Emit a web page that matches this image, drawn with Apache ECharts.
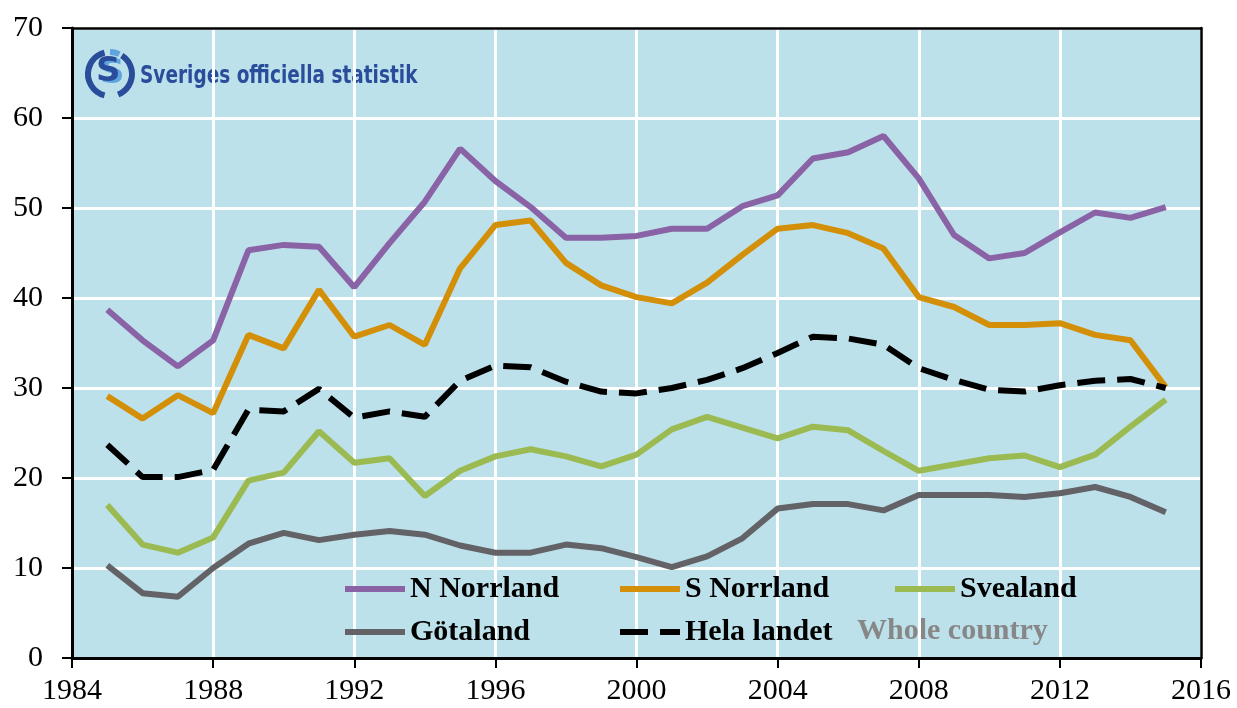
<!DOCTYPE html>
<html>
<head>
<meta charset="utf-8">
<script src="https://cdn.jsdelivr.net/npm/echarts@6/dist/echarts.min.js"></script>
<style>
  html, body { margin: 0; padding: 0; background: #fff; }
  #chart { width: 1237px; height: 708px; }
</style>
</head>
<body>
<div id="chart"></div>
<script>
const years = [1985, 1986, 1987, 1988, 1989, 1990, 1991, 1992, 1993, 1994, 1995, 1996, 1997, 1998, 1999, 2000,
  2001, 2002, 2003, 2004, 2005, 2006, 2007, 2008, 2009, 2010, 2011, 2012, 2013, 2014, 2015];

const nNorrland = [38.7, 35.3, 32.4, 35.3, 45.3, 45.9, 45.7, 41.2, 46.1, 50.7, 56.6, 53.0, 50.1, 46.7, 46.7, 46.9,
  47.7, 47.7, 50.2, 51.4, 55.5, 56.2, 58.0, 53.3, 47.0, 44.4, 45.0, 47.3, 49.5, 48.9, 50.1];
const sNorrland = [29.1, 26.6, 29.2, 27.2, 35.9, 34.4, 40.9, 35.7, 37.0, 34.8, 43.3, 48.1, 48.6, 43.9, 41.4, 40.1,
  39.4, 41.7, 44.8, 47.7, 48.1, 47.2, 45.5, 40.1, 39.0, 37.0, 37.0, 37.2, 35.9, 35.3, 30.1];
const svealand = [17.0, 12.6, 11.7, 13.4, 19.7, 20.6, 25.2, 21.7, 22.2, 18.0, 20.8, 22.4, 23.2, 22.4, 21.3, 22.6,
  25.4, 26.8, 25.6, 24.4, 25.7, 25.3, 23.0, 20.8, 21.5, 22.2, 22.5, 21.2, 22.6, 25.7, 28.7];
const gotaland = [10.3, 7.2, 6.8, 10.0, 12.7, 13.9, 13.1, 13.7, 14.1, 13.7, 12.5, 11.7, 11.7, 12.6, 12.2, 11.2,
  10.1, 11.3, 13.3, 16.6, 17.1, 17.1, 16.4, 18.1, 18.1, 18.1, 17.9, 18.3, 19.0, 17.9, 16.2];
const helaLandet = [23.7, 20.1, 20.1, 20.9, 27.6, 27.4, 29.9, 26.7, 27.4, 26.8, 30.8, 32.5, 32.3, 30.7, 29.6, 29.4,
  30.0, 30.9, 32.2, 33.9, 35.7, 35.5, 34.8, 32.2, 30.9, 29.8, 29.6, 30.3, 30.8, 31.0, 30.0];

const seriesNames = ['N Norrland', 'S Norrland', 'Svealand', 'Götaland', 'Hela landet'];
const seriesColors = ['#8a63a6', '#d38f07', '#9bbb52', '#636367', '#000000'];

const chart = echarts.init(document.getElementById('chart'));

function pairs(vals) {
  return years.map((y, i) => [y, vals[i]]);
}

const serif = '"Liberation Serif", "Times New Roman", serif';
const legendText = { fontFamily: serif, fontSize: 30, fontWeight: 'bold', color: '#000', lineHeight: 32 };
const solidIcon = 'path://M0,0h60v6h-60z';
const dashIcon = 'path://M0,0h28v6h-28z M40,0h20v6h-20z';

function oneLegend(name, icon, left, top) {
  return {
    data: [{ name: name, icon: icon }],
    left: left,
    top: top,
    itemWidth: 60,
    itemHeight: 6,
    itemGap: 0,
    padding: 0,
    selectedMode: false,
    textStyle: legendText
  };
}

const axisLabel = { fontFamily: serif, fontSize: 30, color: '#000' };

const option = {
  animation: false,
  backgroundColor: '#ffffff',
  color: seriesColors,
  grid: {
    left: 72, right: 36, top: 28, bottom: 50,
    show: true,
    backgroundColor: '#bce1ea',
    borderWidth: 0
  },
  legend: [
    oneLegend('N Norrland', solidIcon, 345, 573),
    oneLegend('S Norrland', solidIcon, 620, 573),
    oneLegend('Svealand', solidIcon, 895, 573),
    oneLegend('Götaland', solidIcon, 345, 616),
    oneLegend('Hela landet', dashIcon, 620, 616)
  ],
  xAxis: [
    {
      type: 'value',
      min: 1984,
      max: 2016,
      interval: 4,
      axisLine: { show: true, lineStyle: { color: '#000', width: 3 } },
      axisTick: { show: true, length: 10, lineStyle: { color: '#000', width: 2 } },
      axisLabel: Object.assign({ margin: 18, formatter: v => String(v) }, axisLabel),
      splitLine: { show: true, lineStyle: { color: '#fff', width: 3 } }
    },
    {
      type: 'value',
      position: 'top',
      min: 1984,
      max: 2016,
      axisLine: { show: true, onZero: false, lineStyle: { color: '#000', width: 2.5 } },
      axisTick: { show: false },
      axisLabel: { show: false },
      splitLine: { show: false }
    }
  ],
  yAxis: [
    {
      type: 'value',
      min: 0,
      max: 70,
      interval: 10,
      axisLine: { show: true, lineStyle: { color: '#000', width: 3 } },
      axisTick: { show: true, length: 10, lineStyle: { color: '#000', width: 2 } },
      axisLabel: Object.assign({ margin: 29 }, axisLabel),
      splitLine: { show: true, lineStyle: { color: '#fff', width: 3 } }
    },
    {
      type: 'value',
      position: 'right',
      min: 0,
      max: 70,
      axisLine: { show: true, onZero: false, lineStyle: { color: '#000', width: 2.5 } },
      axisTick: { show: false },
      axisLabel: { show: false },
      splitLine: { show: false }
    }
  ],
  graphic: [
    {
      type: 'group',
      left: 85,
      top: 49,
      children: [
        { type: 'arc', shape: { cx: 26, cy: 25, r: 22, startAngle: Math.PI * 0.58, endAngle: Math.PI * 1.42 },
          style: { stroke: '#2a4d9b', lineWidth: 6, fill: null } },
        { type: 'arc', shape: { cx: 26, cy: 25, r: 22, startAngle: -Math.PI * 0.32, endAngle: Math.PI * 0.38 },
          style: { stroke: '#2a4d9b', lineWidth: 6, fill: null } },
        { type: 'arc', shape: { cx: 26, cy: 25, r: 22, startAngle: Math.PI * 1.5, endAngle: Math.PI * 1.64 },
          style: { stroke: '#5fa4dc', lineWidth: 6, fill: null } },
        { type: 'text', x: 16, y: 8,
          style: { text: 'S', fontFamily: '"DejaVu Sans", sans-serif', fontWeight: 'bold', fontSize: 34, fill: '#5fa4dc' } },
        { type: 'text', x: 12, y: 6,
          style: { text: 'S', fontFamily: '"DejaVu Sans", sans-serif', fontWeight: 'bold', fontSize: 34, fill: '#2a4d9b' } }
      ]
    },
    {
      type: 'text',
      x: 140,
      y: 64,
      scaleX: 0.74,
      style: {
        text: 'Sveriges officiella statistik',
        fontFamily: '"DejaVu Sans", sans-serif',
        fontWeight: 'bold',
        fontSize: 25,
        fill: '#2a4d9b'
      }
    },
    {
      type: 'text',
      left: 857,
      top: 616,
      style: {
        text: 'Whole country',
        fontFamily: serif,
        fontWeight: 'bold',
        fontSize: 30,
        fill: '#878787'
      }
    }
  ],
  series: [
    { name: seriesNames[0], type: 'line', data: pairs(nNorrland), symbol: 'none', lineStyle: { width: 6, color: seriesColors[0] } },
    { name: seriesNames[1], type: 'line', data: pairs(sNorrland), symbol: 'none', lineStyle: { width: 6, color: seriesColors[1] } },
    { name: seriesNames[2], type: 'line', data: pairs(svealand), symbol: 'none', lineStyle: { width: 6, color: seriesColors[2] } },
    { name: seriesNames[3], type: 'line', data: pairs(gotaland), symbol: 'none', lineStyle: { width: 6, color: seriesColors[3] } },
    { name: seriesNames[4], type: 'line', data: pairs(helaLandet), symbol: 'none', z: 3,
      lineStyle: { width: 6, color: seriesColors[4], type: [28, 12] } }
  ]
};

chart.setOption(option);
</script>
</body>
</html>
